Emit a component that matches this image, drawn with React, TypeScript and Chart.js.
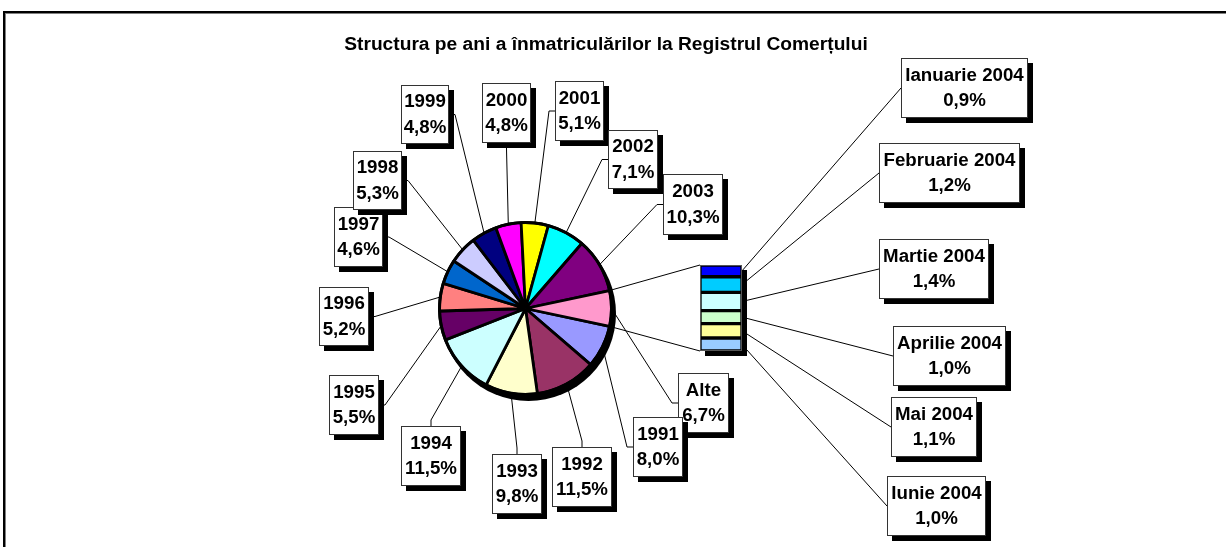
import React, { useEffect, useRef } from "react";
import { Chart, registerables } from "chart.js";

Chart.register(...registerables);

const title = "Structura pe ani a înmatriculărilor la Registrul Comerțului";

const yearLabels = ["1991", "1992", "1993", "1994", "1995", "1996", "1997", "1998", "1999", "2000", "2001", "2002", "2003", "Alte"];
const yearValues = [8.0, 11.5, 9.8, 11.5, 5.5, 5.2, 4.6, 5.3, 4.8, 4.8, 5.1, 7.1, 10.3, 6.7];
const yearValueLabels = ["8,0%", "11,5%", "9,8%", "11,5%", "5,5%", "5,2%", "4,6%", "5,3%", "4,8%", "4,8%", "5,1%", "7,1%", "10,3%", "6,7%"];
const yearColors = ["#9999FF", "#993366", "#FFFFCC", "#CCFFFF", "#660066", "#FF8080", "#0066CC", "#CCCCFF", "#000080", "#FF00FF", "#FFFF00", "#00FFFF", "#800080", "#FF99CC"];

const monthLabels = ["Ianuarie 2004", "Februarie 2004", "Martie 2004", "Aprilie 2004", "Mai 2004", "Iunie 2004"];
const monthValues = [0.9, 1.2, 1.4, 1.0, 1.1, 1.0];
const monthValueLabels = ["0,9%", "1,2%", "1,4%", "1,0%", "1,1%", "1,0%"];
const monthColors = ["#0000FF", "#00CCFF", "#CCFFFF", "#CCFFCC", "#FFFF99", "#99CCFF"];

// layout: label boxes [left, top, width, height]
const yearBoxes = [
  [633, 417, 50, 60],
  [552, 447, 60, 60],
  [492, 454, 50, 60],
  [401, 426, 60, 60],
  [329, 375, 50, 60],
  [319, 287, 50, 59],
  [334, 207, 49, 60],
  [353, 151, 49, 59],
  [401, 85, 48, 59],
  [482, 83, 49, 60],
  [555, 81, 49, 60],
  [608, 130, 50, 59],
  [663, 174, 60, 61],
  [678, 373, 51, 60],
];
const monthBoxes = [
  [901, 58, 127, 60],
  [879, 143, 141, 60],
  [879, 239, 110, 60],
  [893, 326, 113, 60],
  [891, 397, 86, 60],
  [887, 476, 99, 60],
];
const yearDrawOrder = [13, 0, 1, 2, 3, 4, 5, 6, 7, 8, 9, 10, 11, 12];

const W = 1226;
const H = 547;
const FONT = "bold 18.7px 'Liberation Sans', Arial, sans-serif";
const SHADOW = 5;

function drawBox(ctx: CanvasRenderingContext2D, b: number[], l1: string, l2: string) {
  const [x, y, w, h] = b;
  ctx.save();
  ctx.fillStyle = "#000";
  ctx.fillRect(x + SHADOW, y + SHADOW, w, h);
  ctx.fillStyle = "#fff";
  ctx.fillRect(x, y, w, h);
  ctx.strokeStyle = "#333";
  ctx.lineWidth = 1;
  ctx.strokeRect(x + 0.5, y + 0.5, w - 1, h - 1);
  ctx.fillStyle = "#000";
  ctx.font = FONT;
  ctx.textAlign = "center";
  ctx.textBaseline = "middle";
  ctx.fillText(l1, x + w / 2, y + h * 0.29);
  ctx.fillText(l2, x + w / 2, y + h * 0.72);
  ctx.restore();
}

function leader(ctx: CanvasRenderingContext2D, b: number[], px: number, py: number, stub: number) {
  const [x, y, w, h] = b;
  const tol = 5;
  ctx.beginPath();
  if (px < x - tol) {
    ctx.moveTo(x, y + h / 2);
    ctx.lineTo(x - stub, y + h / 2);
  } else if (px > x + w + tol) {
    ctx.moveTo(x + w, y + h / 2);
    ctx.lineTo(x + w + stub, y + h / 2);
  } else if (py > y + h) {
    ctx.moveTo(x + w / 2, y + h);
    ctx.lineTo(x + w / 2, y + h + stub);
  } else {
    ctx.moveTo(x + w / 2, y);
    ctx.lineTo(x + w / 2, y - stub);
  }
  ctx.lineTo(px, py);
  ctx.stroke();
}

export default function App() {
  const pieRef = useRef<HTMLCanvasElement>(null);
  const barRef = useRef<HTMLCanvasElement>(null);

  useEffect(() => {
    if (!pieRef.current || !barRef.current) return;

    const piePlugin = {
      id: "pieDecor",
      beforeDraw(chart: any) {
        const ctx = chart.ctx;
        ctx.save();
        ctx.fillStyle = "#fff";
        ctx.fillRect(0, 0, W, H);
        ctx.fillStyle = "#000";
        ctx.fillRect(3, 11, W, 2);
        ctx.fillRect(3, 11, 2, H);
        ctx.fillStyle = "#808080";
        ctx.fillRect(5, 13, W, 1);
        ctx.fillRect(5, 13, 1, H);
        ctx.fillStyle = "#000";
        ctx.font = "bold 19.2px 'Liberation Sans', Arial, sans-serif";
        ctx.textAlign = "center";
        ctx.textBaseline = "alphabetic";
        ctx.fillText(title, 606, 50);
        ctx.restore();
      },
      beforeDatasetsDraw(chart: any) {
        const ctx = chart.ctx;
        const arcs = chart.getDatasetMeta(0).data;
        ctx.save();
        ctx.strokeStyle = "#000";
        ctx.lineWidth = 1;
        arcs.forEach((a: any, i: number) => {
          const p = a.getProps(["x", "y", "startAngle", "endAngle", "outerRadius"], true);
          const mid = (p.startAngle + p.endAngle) / 2;
          const px = p.x + Math.cos(mid) * p.outerRadius;
          const py = p.y + Math.sin(mid) * p.outerRadius;
          leader(ctx, yearBoxes[i], px, py, 6);
        });
        const a0 = arcs[0].getProps(["x", "y", "outerRadius"], true);
        ctx.fillStyle = "#000";
        ctx.beginPath();
        ctx.arc(a0.x + 3, a0.y + 5, a0.outerRadius + 1.5, 0, Math.PI * 2);
        ctx.fill();
        ctx.restore();
      },
      afterDatasetsDraw(chart: any) {
        const ctx = chart.ctx;
        const arcs = chart.getDatasetMeta(0).data;
        const a0 = arcs[0].getProps(["x", "y", "outerRadius"], true);
        ctx.save();
        ctx.strokeStyle = "#000";
        ctx.lineWidth = 3;
        ctx.beginPath();
        ctx.arc(a0.x, a0.y, a0.outerRadius, 0, Math.PI * 2);
        ctx.stroke();
        ctx.restore();
        yearDrawOrder.forEach((i) => drawBox(ctx, yearBoxes[i], yearLabels[i], yearValueLabels[i]));
      },
    };

    const pieChart = new Chart(pieRef.current, {
      type: "pie",
      data: {
        labels: yearLabels,
        datasets: [
          {
            data: yearValues,
            backgroundColor: yearColors,
            borderColor: "#000",
            borderWidth: 2.8,
            radius: 86,
          } as any,
        ],
      },
      options: {
        animation: false,
        responsive: false,
        events: [],
        rotation: 102,
        layout: { padding: { left: 0, right: 175, top: 70, bottom: 0 } },
        plugins: { legend: { display: false }, tooltip: { enabled: false }, title: { display: false } },
      } as any,
      plugins: [piePlugin],
    });

    const total = monthValues.reduce((s, v) => s + v, 0);

    const barPlugin = {
      id: "barDecor",
      beforeDatasetsDraw(chart: any) {
        const ctx = chart.ctx;
        const area = chart.chartArea;
        ctx.save();
        ctx.strokeStyle = "#000";
        ctx.lineWidth = 1;
        const alte = pieChart.getDatasetMeta(0).data[yearLabels.length - 1] as any;
        const p = alte.getProps(["x", "y", "startAngle", "endAngle", "outerRadius"], true);
        ctx.beginPath();
        ctx.moveTo(p.x + Math.cos(p.startAngle) * p.outerRadius, p.y + Math.sin(p.startAngle) * p.outerRadius);
        ctx.lineTo(area.left, area.top);
        ctx.moveTo(p.x + Math.cos(p.endAngle) * p.outerRadius, p.y + Math.sin(p.endAngle) * p.outerRadius);
        ctx.lineTo(area.left, area.bottom);
        ctx.stroke();
        monthLabels.forEach((_, i) => {
          const el = chart.getDatasetMeta(i).data[0] as any;
          const q = el.getProps(["x", "y", "base", "width"], true);
          const cy = (q.y + q.base) / 2;
          const rx = q.x + q.width / 2;
          const b = monthBoxes[i];
          ctx.beginPath();
          ctx.moveTo(rx, cy);
          ctx.lineTo(b[0], b[1] + b[3] / 2);
          ctx.stroke();
        });
        ctx.fillStyle = "#000";
        ctx.fillRect(area.left + 5, area.top + 5, area.right - area.left, area.bottom - area.top);
        ctx.restore();
      },
      afterDatasetsDraw(chart: any) {
        const ctx = chart.ctx;
        const area = chart.chartArea;
        ctx.save();
        ctx.strokeStyle = "#555";
        ctx.lineWidth = 1;
        ctx.strokeRect(area.left + 0.5, area.top + 0.5, area.right - area.left - 1, area.bottom - area.top - 1);
        ctx.restore();
        monthLabels.forEach((l, i) => drawBox(ctx, monthBoxes[i], l, monthValueLabels[i]));
      },
    };

    const barChart = new Chart(barRef.current, {
      type: "bar",
      data: {
        labels: [""],
        datasets: monthLabels.map((l, i) => ({
          label: l,
          data: [monthValues[i]],
          backgroundColor: monthColors[i],
          borderColor: "#000",
          borderWidth: 2,
          borderSkipped: false,
          barPercentage: 1,
          categoryPercentage: 1,
        })),
      },
      options: {
        animation: false,
        responsive: false,
        events: [],
        layout: { padding: { left: 700, top: 265, right: W - 742, bottom: H - 351 } },
        scales: {
          x: { stacked: true, display: false },
          y: { stacked: true, display: false, reverse: true, min: 0, max: total },
        },
        plugins: { legend: { display: false }, tooltip: { enabled: false } },
      } as any,
      plugins: [barPlugin],
    });

    return () => {
      barChart.destroy();
      pieChart.destroy();
    };
  }, []);

  return (
    <div style={{ position: "absolute", left: 0, top: 0, width: W, height: H, background: "#fff", overflow: "hidden" }}>
      <canvas ref={pieRef} width={W} height={H} style={{ position: "absolute", left: 0, top: 0, width: W, height: H }} />
      <canvas ref={barRef} width={W} height={H} style={{ position: "absolute", left: 0, top: 0, width: W, height: H }} />
    </div>
  );
}
